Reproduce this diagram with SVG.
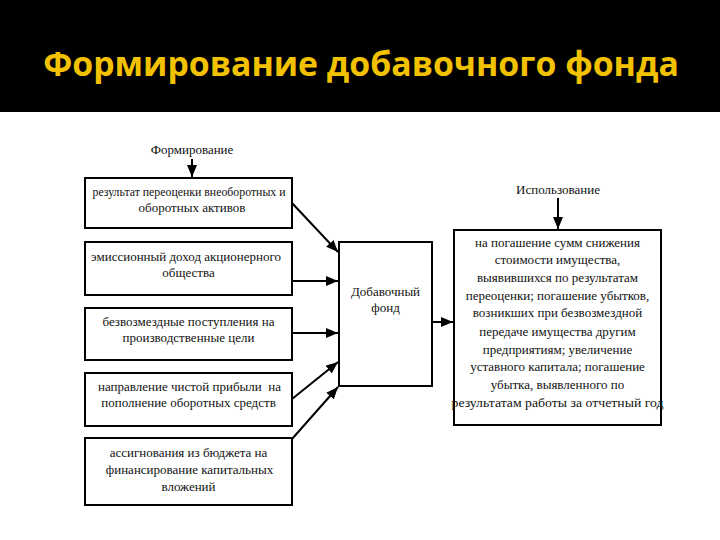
<svg xmlns="http://www.w3.org/2000/svg" width="720" height="540" viewBox="0 0 720 540">
<style>
.box{fill:#fff;stroke:#000;stroke-width:2}
.t{font-family:"Liberation Serif","Times New Roman",serif;font-size:13px;fill:#111;text-anchor:middle}
.title{font-family:"Open Sans","Noto Sans",sans-serif;font-weight:bold;font-size:33.8px;fill:#F2C200;text-anchor:middle}
.c{stroke:#000;stroke-width:2;fill:none;marker-end:url(#ah)}
</style>
<defs>
<marker id="ah" viewBox="0 0 12 10" refX="12" refY="5" markerWidth="12" markerHeight="10" markerUnits="userSpaceOnUse" orient="auto">
<path d="M0,0 L12,5 L0,10 z" fill="#000"/>
</marker>
</defs>
<rect x="0" y="0" width="720" height="540" fill="#fff"/>
<g id="header">
<rect x="0" y="0" width="720" height="112" fill="#000"/>
<text class="title" x="361" y="76">Формирование добавочного фонда</text>
</g>
<g id="label-form"><text class="t" x="192" y="154">Формирование</text></g>
<g id="label-use"><text class="t" x="558" y="194">Использование</text></g>
<g id="box1">
<rect class="box" x="85" y="178" width="207" height="50"/>
<text class="t" x="189" y="196" textLength="193" lengthAdjust="spacingAndGlyphs">результат переоценки внеоборотных и</text>
<text class="t" x="192" y="212">оборотных активов</text>
</g>
<g id="box2">
<rect class="box" x="85" y="242" width="207" height="53"/>
<text class="t" x="186" y="261">эмиссионный доход акционерного</text>
<text class="t" x="188.5" y="277">общества</text>
</g>
<g id="box3">
<rect class="box" x="85" y="308" width="207" height="52"/>
<text class="t" x="188.5" y="326">безвозмездные поступления на</text>
<text class="t" x="188.5" y="342">производственные цели</text>
</g>
<g id="box4">
<rect class="box" x="85" y="373" width="207" height="53"/>
<text class="t" x="189.5" y="391" xml:space="preserve">направление чистой прибыли  на</text>
<text class="t" x="188.5" y="407">пополнение оборотных средств</text>
</g>
<g id="box5">
<rect class="box" x="85" y="438" width="207" height="67"/>
<text class="t" x="188.5" y="457">ассигнования из бюджета на</text>
<text class="t" x="189.5" y="474">финансирование капитальных</text>
<text class="t" x="188.5" y="491">вложений</text>
</g>
<g id="fund">
<rect class="box" x="339" y="242" width="93" height="144"/>
<text class="t" x="385.5" y="296">Добавочный</text>
<text class="t" x="385.5" y="312">фонд</text>
</g>
<g id="use">
<rect class="box" x="454" y="230" width="207" height="195"/>
<text class="t" x="557.5" y="247">на погашение сумм снижения</text>
<text class="t" x="557.5" y="264">стоимости имущества,</text>
<text class="t" x="557.5" y="282">выявившихся по результатам</text>
<text class="t" x="557.5" y="300">переоценки; погашение убытков,</text>
<text class="t" x="557.5" y="317">возникших при безвозмездной</text>
<text class="t" x="557.5" y="336">передаче имущества другим</text>
<text class="t" x="557.5" y="354">предприятиям; увеличение</text>
<text class="t" x="557.5" y="371">уставного капитала; погашение</text>
<text class="t" x="557.5" y="389">убытка, выявленного по</text>
<text class="t" x="557.5" y="407" textLength="212" lengthAdjust="spacingAndGlyphs">результатам работы за отчетный год</text>
</g>
<g id="connectors">
<line class="c" x1="192" y1="159" x2="192" y2="177"/>
<line class="c" x1="558" y1="198" x2="558" y2="229"/>
<line class="c" x1="292" y1="203" x2="338" y2="252"/>
<line class="c" x1="292" y1="281" x2="338" y2="281"/>
<line class="c" x1="292" y1="333" x2="338" y2="333"/>
<line class="c" x1="292" y1="399" x2="338" y2="362"/>
<line class="c" x1="292" y1="439" x2="338" y2="387"/>
<line class="c" x1="432" y1="322" x2="453" y2="322"/>
</g>
</svg>
